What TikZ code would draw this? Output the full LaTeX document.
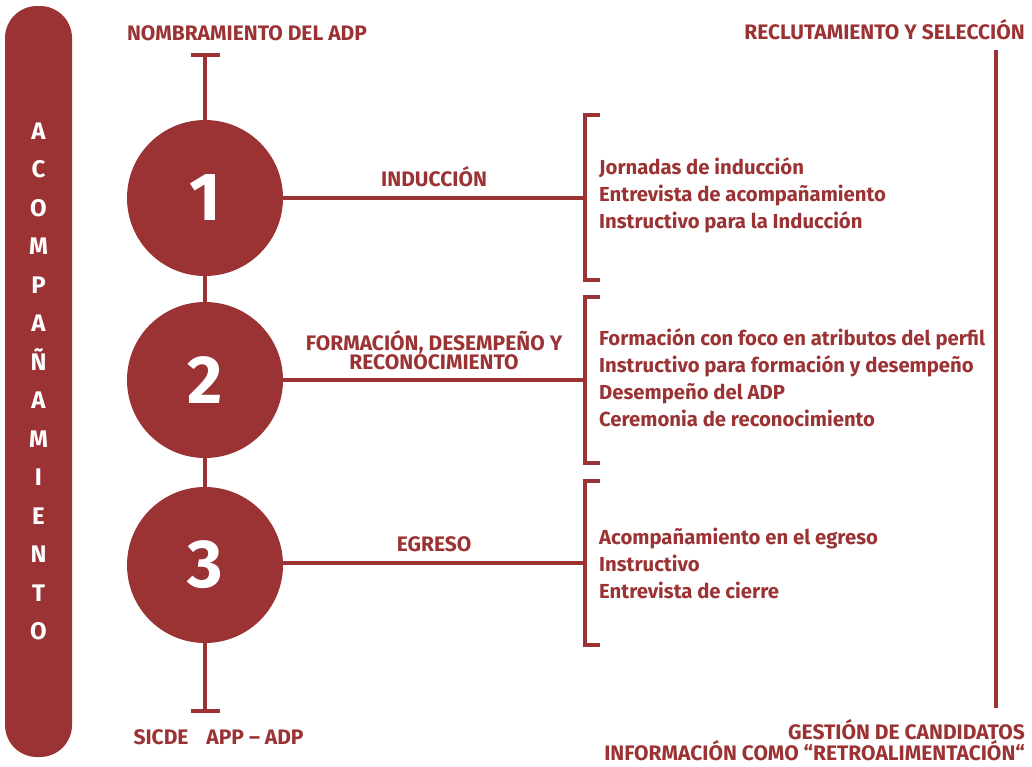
\documentclass[tikz,border=0pt]{standalone}
\usepackage{fontspec}
\setmainfont{Fira Sans}
\usetikzlibrary{positioning}
\definecolor{vino}{RGB}{155,51,52}
\tikzset{
 barra/.style
  = {rectangle, fill=vino, minimum width=67pt, minimum height=751pt,
     rounded corners=32pt, text=white, align=center, inner sep=0pt,
     font=\fontsize{24}{38.5}\selectfont\bfseries},
 fase/.style
  = {circle, fill=vino, minimum size=156pt, inner sep=0pt, text=white,
     font=\fontsize{68}{68}\selectfont\bfseries},
 linea/.style
  = {draw=vino, line width=4pt},
 titulo/.style
  = {text=vino, inner sep=0pt, font=\fontsize{21}{21}\selectfont\bfseries},
 etapa/.style
  = {text=vino, inner sep=0pt, align=center, font=\fontsize{21}{18}\selectfont\bfseries},
 lista/.style
  = {text=vino, inner sep=0pt, align=left, anchor=west,
     font=\fontsize{20.3}{27}\selectfont\bfseries}
}
\begin{document}
\begin{tikzpicture}[x=1pt,y=-1pt]
    \useasboundingbox (0,0) rectangle (1032,766);

    \node [barra] (barra) at (38.5,381.5) {A\\C\\O\\M\\P\\A\\Ñ\\A\\M\\I\\E\\N\\T\\O};

    % linea de tiempo
    \coordinate (ttop) at (205,55);
    \coordinate (tbot) at (205,711);
    \path [linea] (ttop) -- (tbot);
    \path [linea] ([xshift=-14pt]ttop) -- ([xshift=15pt]ttop);
    \path [linea] ([xshift=-14pt]tbot) -- ([xshift=15pt]tbot);
    \node [titulo, above = 14pt of ttop, xshift=42pt] (nombra) {NOMBRAMIENTO DEL ADP};
    \node [titulo, anchor=center] (sicde) at (161,737) {SICDE};
    \node [titulo, anchor=center] (app) at (255,737) {APP – ADP};

    \node [fase] (f1) at (205,198) {1};
    \node [fase] (f2) at (205,380) {2};
    \node [fase] (f3) at (205,565) {3};

    \coordinate (k1) at (585,198);
    \coordinate (k2) at (585,380);
    \coordinate (k3) at (585,563);

    \path [linea] (f1) -- (k1) node[midway, above=9pt, etapa]{INDUCCIÓN};
    \path [linea] (f2) -- (k2) node[midway, above=8pt, etapa]{FORMACIÓN, DESEMPEÑO Y\\RECONOCIMIENTO};
    \path [linea] (f3.east |- k3) -- (k3) node[midway, above=9pt, etapa]{EGRESO};

    % llaves
    \path [linea] (k1) ++(15,-83) -| ++(-15,165) -- ++(15,0);
    \path [linea] (k2) ++(15,-83) -| ++(-15,166) -- ++(15,0);
    \path [linea] (k3) ++(15,-82) -| ++(-15,164) -- ++(15,0);

    \node [lista] (l1) at (599,195) {Jornadas de inducción\\Entrevista de acompañamiento\\Instructivo para la Inducción};
    \node [lista] (l2) at (599,378) {Formación con foco en atributos del perfil\\Instructivo para formación y desempeño\\Desempeño del ADP\\Ceremonia de reconocimiento};
    \node [lista] (l3) at (599,563) {Acompañamiento en el egreso\\Instructivo\\Entrevista de cierre};

    % lado derecho
    \coordinate (rtop) at (996,50);
    \coordinate (rbot) at (996,708);
    \path [linea] (rtop) -- (rbot);
    \node [titulo, anchor=east] (reclu) at (1025,30) {RECLUTAMIENTO Y SELECCIÓN};
    \node [etapa, align=right, anchor=east, font=\fontsize{21}{17}\selectfont\bfseries] (gestion) at (1025,740) {GESTIÓN DE CANDIDATOS\\INFORMACIÓN COMO “RETROALIMENTACIÓN“};

\end{tikzpicture}
\end{document}
